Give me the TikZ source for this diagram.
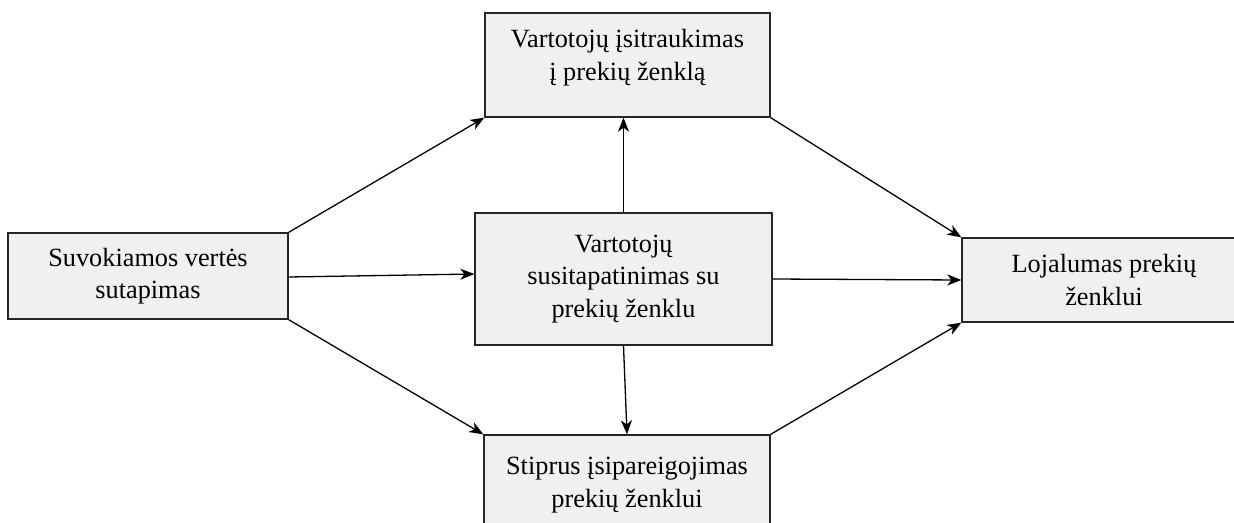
\documentclass[tikz,border=0pt]{standalone}
\usepackage{fontspec}
\setmainfont{Liberation Serif}
\usetikzlibrary{arrows.meta}
\begin{document}
\begin{tikzpicture}[x=1pt,y=-1pt,
  box/.style={draw=black!85, line width=1.3pt, fill=black!6, inner sep=0pt,
    align=center, font=\fontsize{26.3}{32.5}\selectfont},
  link/.style={line width=1.3pt, -{Stealth[length=14pt,width=11pt,inset=4pt]}}]
  \useasboundingbox (0,0) rectangle (1234,522);

  % boxes
  \node[box, minimum width=285pt, minimum height=104pt, text depth=20pt] (top) at (627.5,65)
    {Vartotojų įsitraukimas\\į prekių ženklą};
  \node[box, minimum width=280pt, minimum height=86pt] (lft) at (148,276)
    {Suvokiamos vertės\\sutapimas};
  \node[box, minimum width=297pt, minimum height=132pt] (ctr) at (623.5,279)
    {Vartotojų\\susitapatinimas su\\prekių ženklu};
  \node[box, minimum width=284pt, minimum height=84pt] (rgt) at (1104,280)
    {Lojalumas prekių\\ženklui};
  \node[box, minimum width=286pt, minimum height=100pt] (bot) at (627,485)
    {Stiprus įsipareigojimas\\prekių ženklui};

  % connectors
  \draw[link] (lft.north east) -- (top.south west);
  \draw[link] ([yshift=-1pt]lft.east) -- ([yshift=5pt]ctr.west);
  \draw[link] (lft.south east) -- (bot.north west);
  \draw[link] (ctr.north) -- (ctr.north |- top.south);
  \draw[link] (ctr.south) -- (bot.north);
  \draw[link] (ctr.east) -- (rgt.west);
  \draw[link] (top.south east) -- (rgt.north west);
  \draw[link] (bot.north east) -- (rgt.south west);
\end{tikzpicture}
\end{document}
